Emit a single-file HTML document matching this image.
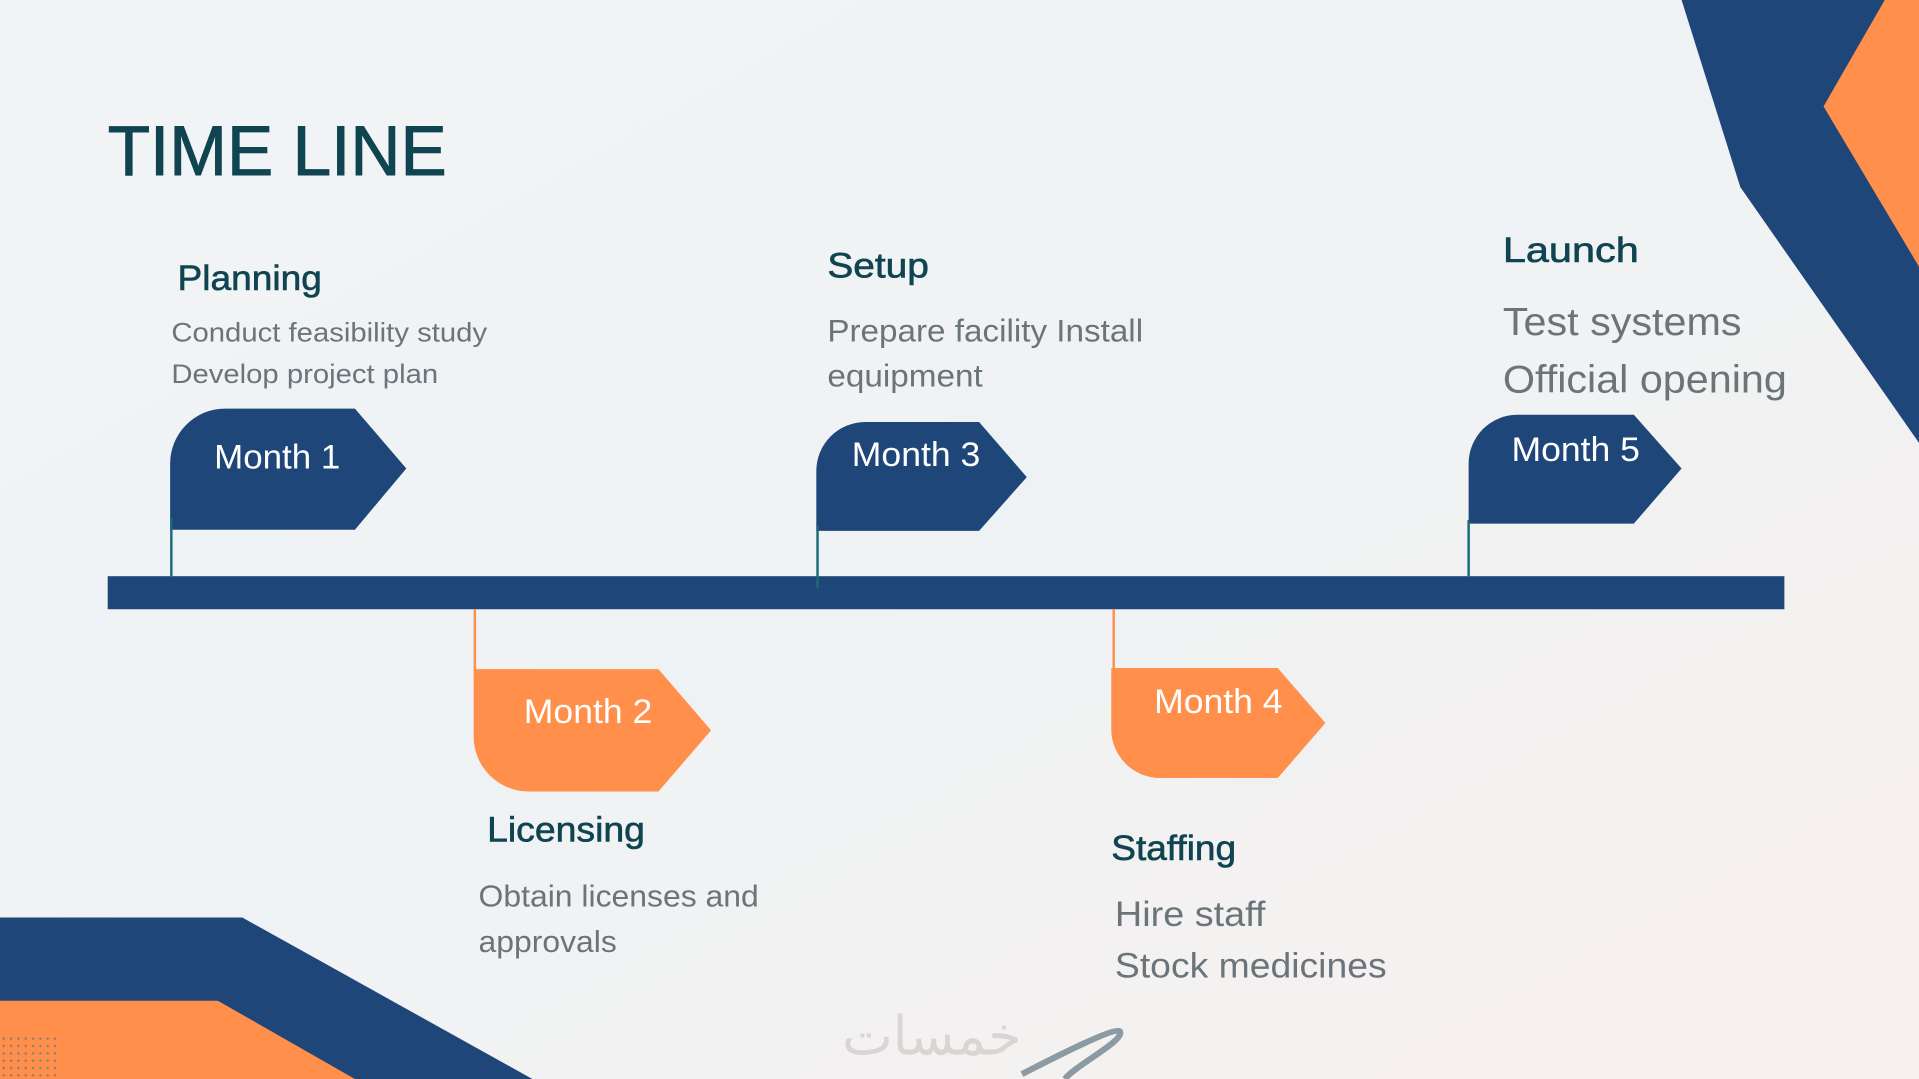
<!DOCTYPE html>
<html><head><meta charset="utf-8"><style>
html,body{margin:0;padding:0;width:1919px;height:1079px;overflow:hidden;background:#f3f4f5}
svg{display:block}
</style></head><body>
<svg width="1919" height="1079" viewBox="0 0 1568 882" preserveAspectRatio="none" xmlns="http://www.w3.org/2000/svg">
<defs>
<linearGradient id="bg" x1="0" y1="0" x2="1" y2="1">
<stop offset="0" stop-color="#f2f4f6"/><stop offset="0.5" stop-color="#eff2f4"/><stop offset="1" stop-color="#f8f0ee"/>
</linearGradient>
<pattern id="dots" width="6" height="6" patternUnits="userSpaceOnUse"><circle cx="3" cy="3" r="1" fill="#6c7a85"/></pattern>
</defs>
<rect width="1568" height="882" fill="url(#bg)"/>
<polygon points="1374,0 1568,0 1568,362 1422,153" fill="#1f4679"/>
<polygon points="1540,0 1568,0 1568,218 1490,87" fill="#ff8f4a"/>
<polygon points="0,750 198,750 435,882 0,882" fill="#1f4679"/>
<polygon points="0,818 178,818 290,882 0,882" fill="#ff8f4a"/>
<rect x="0" y="845" width="48" height="37" fill="url(#dots)" opacity="0.8"/>
<g font-family="Liberation Sans, sans-serif">
<text x="88" y="143" font-size="58" fill="#0f4450" stroke="#0f4450" stroke-width="0.8" textLength="277" lengthAdjust="spacingAndGlyphs">TIME LINE</text>
<rect x="88" y="471" width="1370" height="27" fill="#1f4679"/>
<path d="M139,433 V379 A45,45 0 0 1 184,334 H290 L332,383 L290,433 Z" fill="#1f4679"/>
<line x1="140" y1="423" x2="140" y2="471" stroke="#1b6a78" stroke-width="2"/>
<text x="175" y="383" font-size="28" fill="#fff" textLength="103" lengthAdjust="spacingAndGlyphs">Month 1</text>
<path d="M667,434 V385 A40,40 0 0 1 707,345 H800 L839,390 L800,434 Z" fill="#1f4679"/>
<line x1="668" y1="430" x2="668" y2="481" stroke="#1b6a78" stroke-width="2"/>
<text x="696" y="381" font-size="28" fill="#fff" textLength="105" lengthAdjust="spacingAndGlyphs">Month 3</text>
<path d="M1200,428 V379 A40,40 0 0 1 1240,339 H1335 L1374,383 L1335,428 Z" fill="#1f4679"/>
<line x1="1200" y1="425" x2="1200" y2="471" stroke="#1b6a78" stroke-width="2"/>
<text x="1235" y="377" font-size="28" fill="#fff" textLength="105" lengthAdjust="spacingAndGlyphs">Month 5</text>
<path d="M387,547 H538 L581,597 L538,647 H432 A45,45 0 0 1 387,602 Z" fill="#ff8f4a"/>
<line x1="388" y1="498" x2="388" y2="548" stroke="#ff8f4a" stroke-width="2"/>
<text x="428" y="591" font-size="28" fill="#fff" textLength="105" lengthAdjust="spacingAndGlyphs">Month 2</text>
<path d="M908,546 H1044 L1083,591 L1044,636 H948 A40,40 0 0 1 908,596 Z" fill="#ff8f4a"/>
<line x1="910" y1="498" x2="910" y2="547" stroke="#ff8f4a" stroke-width="2"/>
<text x="943" y="583" font-size="28" fill="#fff" textLength="105" lengthAdjust="spacingAndGlyphs">Month 4</text>
<g fill="#0f4450" font-size="29" stroke="#0f4450" stroke-width="0.5">
<text x="145" y="237" textLength="118" lengthAdjust="spacingAndGlyphs">Planning</text>
<text x="676" y="227" textLength="83" lengthAdjust="spacingAndGlyphs">Setup</text>
<text x="1228" y="214" textLength="111" lengthAdjust="spacingAndGlyphs">Launch</text>
<text x="398" y="688" textLength="129" lengthAdjust="spacingAndGlyphs">Licensing</text>
<text x="908" y="703" textLength="102" lengthAdjust="spacingAndGlyphs">Staffing</text>
</g>
<g fill="#6b7579">
<text x="140" y="279" font-size="22" textLength="258" lengthAdjust="spacingAndGlyphs">Conduct feasibility study</text>
<text x="140" y="313" font-size="22" textLength="218" lengthAdjust="spacingAndGlyphs">Develop project plan</text>
<text x="676" y="279" font-size="26" textLength="258" lengthAdjust="spacingAndGlyphs">Prepare facility Install</text>
<text x="676" y="316" font-size="26" textLength="127" lengthAdjust="spacingAndGlyphs">equipment</text>
<text x="1228" y="274" font-size="32" textLength="195" lengthAdjust="spacingAndGlyphs">Test systems</text>
<text x="1228" y="321" font-size="32" textLength="232" lengthAdjust="spacingAndGlyphs">Official opening</text>
<text x="391" y="741" font-size="25" textLength="229" lengthAdjust="spacingAndGlyphs">Obtain licenses and</text>
<text x="391" y="778" font-size="25" textLength="113" lengthAdjust="spacingAndGlyphs">approvals</text>
<text x="911" y="757" font-size="29" textLength="123" lengthAdjust="spacingAndGlyphs">Hire staff</text>
<text x="911" y="799" font-size="29" textLength="222" lengthAdjust="spacingAndGlyphs">Stock medicines</text>
</g>
<text x="688" y="862" font-size="44" fill="#d9d5d2" font-family="Noto Sans CJK SC, sans-serif">خمسات</text>
</g>
<path d="M835,878 C870,860 910,840 915,843 C920,850 880,870 870,882" stroke="#8c9aa3" stroke-width="5" fill="none"/>
</svg>
</body></html>
